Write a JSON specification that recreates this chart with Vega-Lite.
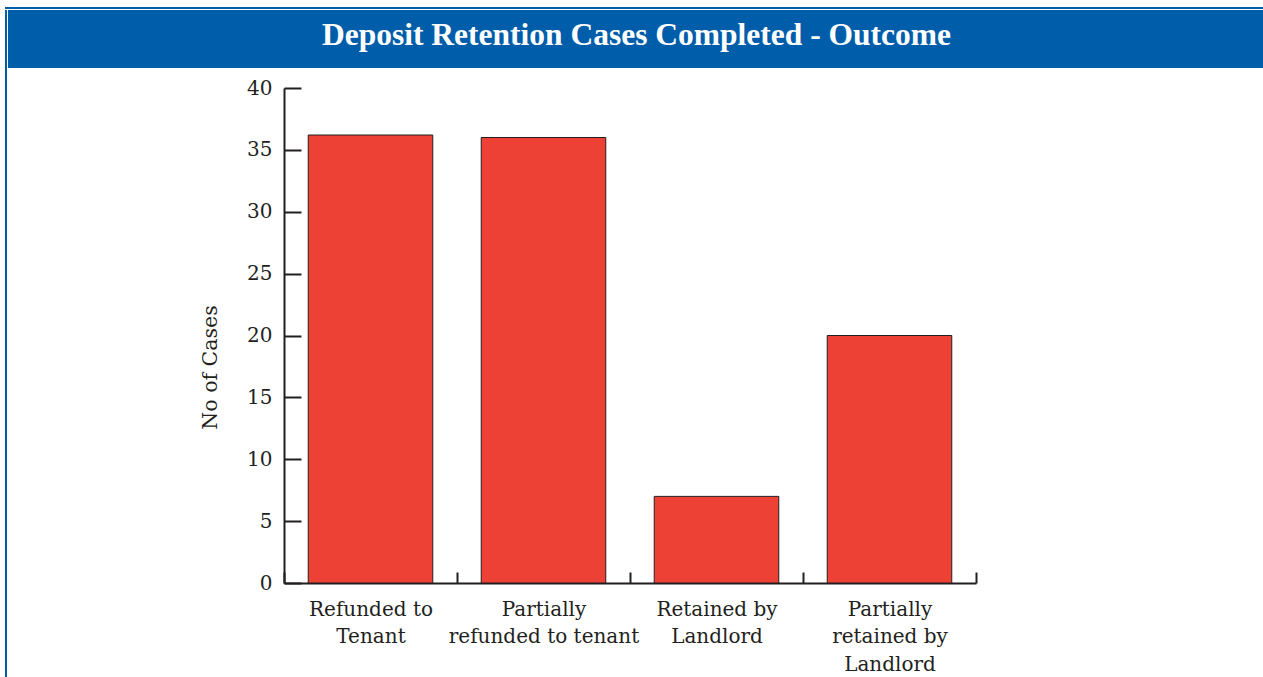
{
  "$schema": "https://vega.github.io/schema/vega-lite/v6.json",
  "padding": {"left": 3, "top": 5, "right": 0, "bottom": 0},
  "background": "white",
  "config": {"view": {"stroke": null}},
  "datasets": {
    "outcomes": [
      {"outcome": "Refunded to Tenant", "cases": 36.2},
      {"outcome": "Partially refunded to tenant", "cases": 36},
      {"outcome": "Retained by Landlord", "cases": 7},
      {"outcome": "Partially retained by Landlord", "cases": 20}
    ]
  },
  "bounds": "flush",
  "spacing": 1,
  "vconcat": [
    {
      "width": 1260, "height": 2,
      "view": {"fill": "#005DAA", "stroke": null},
      "data": {"values": [{}]},
      "mark": {"type": "point", "opacity": 0}
    },
    {
      "bounds": "flush",
      "spacing": 1,
      "hconcat": [
        {
          "width": 2, "height": 680,
          "view": {"fill": "#005DAA", "stroke": null},
          "data": {"values": [{}]},
          "mark": {"type": "point", "opacity": 0}
        },
        {
          "bounds": "flush",
          "spacing": 20,
          "vconcat": [
            {
              "width": 1257, "height": 58,
              "view": {"fill": "#005DAA", "stroke": null},
              "data": {"values": [{"title": "Deposit Retention Cases Completed - Outcome"}]},
              "mark": {"type": "text", "font": "Liberation Serif", "fontWeight": "bold", "fontSize": 31.5, "color": "white", "dy": -3},
              "encoding": {"text": {"field": "title"}}
            },
            {
              "bounds": "flush",
              "spacing": 0,
              "hconcat": [
                {
                  "width": 276, "height": 495,
                  "data": {"values": [{}]},
                  "mark": {"type": "point", "opacity": 0}
                },
                {
                  "width": 692, "height": 495,
                  "data": {"name": "outcomes"},
                  "mark": {"type": "bar", "fill": "#EE4136", "stroke": "#231F20", "strokeWidth": 1, "width": {"band": 0.72}},
                  "encoding": {
                    "x": {
                      "field": "outcome", "type": "nominal", "sort": null,
                      "scale": {"paddingInner": 0, "paddingOuter": 0},
                      "axis": {
                        "title": null, "labelAngle": 0, "tickBand": "extent",
                        "tickSize": -11, "tickWidth": 2, "tickColor": "#231F20",
                        "domainColor": "#231F20", "domainWidth": 2,
                        "labelPadding": 27, "labelBaseline": "top",
                        "labelFont": "DejaVu Serif", "labelFontSize": 20, "labelLineHeight": 27.5,
                        "labelColor": "#231F20", "labelLimit": 400,
                        "labelExpr": "datum.value == 'Refunded to Tenant' ? ['Refunded to', 'Tenant'] : datum.value == 'Partially refunded to tenant' ? ['Partially', 'refunded to tenant'] : datum.value == 'Retained by Landlord' ? ['Retained by', 'Landlord'] : datum.value == 'Partially retained by Landlord' ? ['Partially', 'retained by', 'Landlord'] : ''"
                      }
                    },
                    "y": {
                      "field": "cases", "type": "quantitative",
                      "scale": {"domain": [0, 40]},
                      "axis": {
                        "title": "No of Cases", "values": [0, 5, 10, 15, 20, 25, 30, 35, 40], "grid": false,
                        "domainColor": "#231F20", "domainWidth": 2,
                        "tickColor": "#231F20", "tickWidth": 2, "tickSize": -17,
                        "labelPadding": 29, "labelFont": "DejaVu Serif", "labelFontSize": 20, "labelColor": "#231F20",
                        "titleFont": "DejaVu Serif", "titleFontSize": 20.5, "titleFontWeight": "normal", "titleColor": "#231F20",
                        "titleX": -64, "titleY": 279
                      }
                    }
                  }
                }
              ]
            }
          ]
        }
      ]
    }
  ]
}
